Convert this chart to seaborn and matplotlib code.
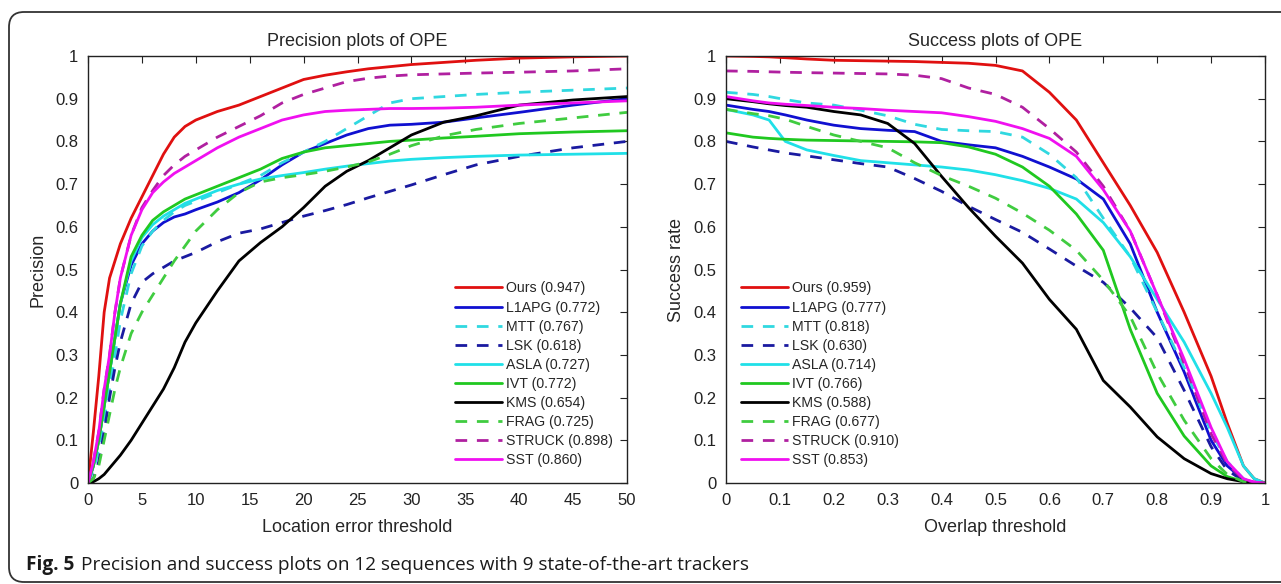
import numpy as np
import pandas as pd
import matplotlib
matplotlib.use("Agg")
import matplotlib.pyplot as plt
from matplotlib.patches import FancyBboxPatch
import seaborn as sns

# ---------------- data ----------------
trackers = ["Ours", "L1APG", "MTT", "LSK", "ASLA", "IVT", "KMS", "FRAG", "STRUCK", "SST"]
prec_scores = ["0.947", "0.772", "0.767", "0.618", "0.727", "0.772", "0.654", "0.725", "0.898", "0.860"]
succ_scores = ["0.959", "0.777", "0.818", "0.630", "0.714", "0.766", "0.588", "0.677", "0.910", "0.853"]

prec_x = [0, 0.5, 1, 1.5, 2, 2.5, 3, 4, 5, 6, 7, 8, 9, 10, 12, 14, 16, 18, 20, 22, 24, 26, 28, 30, 33, 36, 40, 45, 50]
prec_ours = [0, 0.12, 0.25, 0.40, 0.48, 0.52, 0.56, 0.62, 0.67, 0.72, 0.77, 0.81, 0.835, 0.85, 0.87, 0.885, 0.905, 0.925, 0.945, 0.955, 0.963, 0.97, 0.975, 0.98, 0.985, 0.99, 0.995, 0.998, 1.0]
prec_l1apg = [0, 0.04, 0.10, 0.18, 0.26, 0.34, 0.42, 0.51, 0.56, 0.59, 0.61, 0.623, 0.63, 0.64, 0.658, 0.68, 0.71, 0.745, 0.775, 0.795, 0.815, 0.83, 0.838, 0.84, 0.845, 0.855, 0.868, 0.885, 0.90]
prec_mtt = [0, 0.03, 0.08, 0.15, 0.22, 0.30, 0.38, 0.49, 0.555, 0.59, 0.615, 0.635, 0.65, 0.66, 0.68, 0.70, 0.72, 0.75, 0.775, 0.80, 0.83, 0.86, 0.89, 0.90, 0.905, 0.91, 0.915, 0.92, 0.925]
prec_lsk = [0, 0.01, 0.05, 0.12, 0.20, 0.27, 0.33, 0.42, 0.47, 0.49, 0.505, 0.52, 0.53, 0.54, 0.565, 0.585, 0.595, 0.61, 0.625, 0.638, 0.652, 0.668, 0.683, 0.698, 0.722, 0.745, 0.765, 0.785, 0.80]
prec_asla = [0, 0.04, 0.10, 0.18, 0.26, 0.34, 0.42, 0.52, 0.575, 0.605, 0.625, 0.64, 0.655, 0.665, 0.685, 0.70, 0.712, 0.72, 0.727, 0.735, 0.742, 0.748, 0.754, 0.758, 0.762, 0.765, 0.768, 0.77, 0.772]
prec_ivt = [0, 0.04, 0.10, 0.18, 0.26, 0.34, 0.42, 0.53, 0.58, 0.615, 0.635, 0.65, 0.665, 0.675, 0.695, 0.715, 0.735, 0.76, 0.775, 0.785, 0.79, 0.795, 0.80, 0.803, 0.808, 0.812, 0.818, 0.822, 0.825]
prec_kms = [0, 0.003, 0.01, 0.02, 0.035, 0.05, 0.065, 0.10, 0.14, 0.18, 0.22, 0.27, 0.33, 0.375, 0.45, 0.52, 0.563, 0.60, 0.645, 0.695, 0.73, 0.755, 0.785, 0.815, 0.845, 0.86, 0.885, 0.897, 0.905]
prec_frag = [0, 0.01, 0.04, 0.10, 0.16, 0.22, 0.27, 0.35, 0.40, 0.44, 0.48, 0.52, 0.555, 0.59, 0.64, 0.68, 0.705, 0.715, 0.722, 0.73, 0.74, 0.752, 0.77, 0.79, 0.813, 0.828, 0.842, 0.855, 0.868]
prec_struck = [0, 0.05, 0.12, 0.22, 0.30, 0.40, 0.48, 0.58, 0.645, 0.685, 0.72, 0.745, 0.765, 0.78, 0.81, 0.835, 0.86, 0.89, 0.91, 0.925, 0.94, 0.948, 0.953, 0.956, 0.958, 0.96, 0.962, 0.965, 0.97]
prec_sst = [0, 0.05, 0.12, 0.22, 0.30, 0.40, 0.48, 0.58, 0.64, 0.68, 0.705, 0.725, 0.74, 0.755, 0.785, 0.81, 0.83, 0.85, 0.862, 0.87, 0.873, 0.875, 0.877, 0.877, 0.878, 0.88, 0.885, 0.89, 0.895]

succ_x = [0, 0.05, 0.08, 0.11, 0.15, 0.2, 0.25, 0.3, 0.35, 0.4, 0.45, 0.5, 0.55, 0.6, 0.65, 0.7, 0.75, 0.8, 0.85, 0.9, 0.93, 0.96, 0.98, 1.0]
succ_ours = [1.0, 0.999, 0.998, 0.996, 0.993, 0.99, 0.989, 0.988, 0.987, 0.985, 0.983, 0.978, 0.965, 0.915, 0.85, 0.75, 0.65, 0.54, 0.40, 0.25, 0.14, 0.04, 0.01, 0.0]
succ_l1apg = [0.885, 0.875, 0.87, 0.862, 0.85, 0.838, 0.83, 0.826, 0.823, 0.80, 0.792, 0.785, 0.765, 0.74, 0.712, 0.665, 0.56, 0.40, 0.26, 0.10, 0.04, 0.008, 0.001, 0.0]
succ_mtt = [0.915, 0.91, 0.905, 0.898, 0.89, 0.885, 0.873, 0.86, 0.84, 0.828, 0.825, 0.823, 0.81, 0.77, 0.715, 0.62, 0.53, 0.40, 0.27, 0.12, 0.05, 0.01, 0.002, 0.0]
succ_lsk = [0.80, 0.787, 0.78, 0.773, 0.766, 0.757, 0.748, 0.74, 0.713, 0.683, 0.648, 0.617, 0.587, 0.548, 0.508, 0.47, 0.41, 0.34, 0.217, 0.085, 0.03, 0.005, 0.001, 0.0]
succ_asla = [0.875, 0.862, 0.85, 0.80, 0.78, 0.767, 0.755, 0.75, 0.745, 0.74, 0.733, 0.722, 0.708, 0.69, 0.665, 0.61, 0.53, 0.43, 0.33, 0.21, 0.13, 0.04, 0.01, 0.0]
succ_ivt = [0.82, 0.81, 0.807, 0.805, 0.803, 0.802, 0.801, 0.80, 0.799, 0.797, 0.787, 0.77, 0.74, 0.695, 0.63, 0.545, 0.36, 0.21, 0.11, 0.04, 0.015, 0.003, 0.0, 0.0]
succ_kms = [0.90, 0.893, 0.888, 0.884, 0.88, 0.87, 0.862, 0.842, 0.795, 0.718, 0.645, 0.578, 0.515, 0.43, 0.36, 0.24, 0.178, 0.108, 0.057, 0.022, 0.01, 0.003, 0.001, 0.0]
succ_frag = [0.875, 0.865, 0.86, 0.852, 0.835, 0.815, 0.80, 0.785, 0.75, 0.72, 0.695, 0.667, 0.632, 0.592, 0.545, 0.475, 0.39, 0.257, 0.147, 0.057, 0.02, 0.003, 0.0, 0.0]
succ_struck = [0.965, 0.964, 0.963, 0.962, 0.961, 0.96, 0.959, 0.958, 0.955, 0.947, 0.925, 0.91, 0.88, 0.83, 0.775, 0.695, 0.59, 0.44, 0.28, 0.115, 0.045, 0.008, 0.002, 0.0]
succ_sst = [0.905, 0.895, 0.89, 0.887, 0.884, 0.88, 0.877, 0.873, 0.87, 0.867, 0.858, 0.847, 0.83, 0.807, 0.765, 0.687, 0.59, 0.44, 0.29, 0.13, 0.05, 0.01, 0.002, 0.0]

prec_x_ticks = [0, 5, 10, 15, 20, 25, 30, 35, 40, 45, 50]
succ_x_ticks = [0, 0.1, 0.2, 0.3, 0.4, 0.5, 0.6, 0.7, 0.8, 0.9, 1]
succ_x_labels = ["0", "0.1", "0.2", "0.3", "0.4", "0.5", "0.6", "0.7", "0.8", "0.9", "1"]
y_ticks = [0, 0.1, 0.2, 0.3, 0.4, 0.5, 0.6, 0.7, 0.8, 0.9, 1]
y_labels = ["0", "0.1", "0.2", "0.3", "0.4", "0.5", "0.6", "0.7", "0.8", "0.9", "1"]

prec_series = [prec_ours, prec_l1apg, prec_mtt, prec_lsk, prec_asla, prec_ivt, prec_kms, prec_frag, prec_struck, prec_sst]
succ_series = [succ_ours, succ_l1apg, succ_mtt, succ_lsk, succ_asla, succ_ivt, succ_kms, succ_frag, succ_struck, succ_sst]

# ---------------- style ----------------
colors = {"Ours": "#e01010", "L1APG": "#1010d0", "MTT": "#30d8e0", "LSK": "#1a1aa0",
          "ASLA": "#20e0e8", "IVT": "#20c820", "KMS": "#000000", "FRAG": "#40cc40",
          "STRUCK": "#b020a0", "SST": "#f010f0"}
dashed = {"MTT", "LSK", "FRAG", "STRUCK"}

sns.set_style("white")
plt.rcParams["font.family"] = ["Liberation Sans", "DejaVu Sans"]

fig = plt.figure(figsize=(12.81, 5.84), dpi=100)
ax1 = fig.add_axes([88/1281, 1-483/584, 539/1281, 427/584])
ax2 = fig.add_axes([726/1281, 1-483/584, 539/1281, 427/584])

def draw(ax, xs, series, scores):
    handles = []
    for name, ys, sc in zip(trackers, series, scores):
        df = pd.DataFrame({"x": xs, "y": ys})
        ls = (0, (4.2, 3.5)) if name in dashed else "-"
        sns.lineplot(data=df, x="x", y="y", ax=ax, color=colors[name], linewidth=2.0,
                     linestyle=ls, estimator=None, sort=False)
        handles.append((ax.lines[-1], f"{name} ({sc})"))
    return handles

h1 = draw(ax1, prec_x, prec_series, prec_scores)
h2 = draw(ax2, succ_x, succ_series, succ_scores)

for ax in (ax1, ax2):
    ax.set_ylim(0, 1)
    ax.set_yticks(y_ticks)
    ax.set_yticklabels(y_labels)
    ax.tick_params(direction="in", length=5, width=0.8, top=True, right=True,
                   labelsize=12, colors="#222222")
    ax.tick_params(axis="x", pad=7)
    ax.tick_params(axis="y", pad=7)
    for s in ax.spines.values():
        s.set_color("#222222")
        s.set_linewidth(1.0)
    ax.set_facecolor("white")

ax1.set_xlim(0, 50)
ax1.set_xticks(prec_x_ticks)
ax2.set_xlim(0, 1)
ax2.set_xticks(succ_x_ticks)
ax2.set_xticklabels(succ_x_labels)

ax1.set_title("Precision plots of OPE", fontsize=13, pad=7)
ax2.set_title("Success plots of OPE", fontsize=13, pad=7)
ax1.set_xlabel("Location error threshold", fontsize=13, labelpad=8)
ax2.set_xlabel("Overlap threshold", fontsize=13, labelpad=8)
ax1.set_ylabel("Precision", fontsize=13, labelpad=6)
ax2.set_ylabel("Success rate", fontsize=13, labelpad=6)

leg_kw = dict(loc="upper left", frameon=False, fontsize=10.2, handlelength=3.3,
              handletextpad=0.3, labelspacing=0.36, borderpad=0, borderaxespad=0)
ax1.legend([h for h, _ in h1], [l for _, l in h1], bbox_to_anchor=(0.681, 0.472), **leg_kw)
ax2.legend([h for h, _ in h2], [l for _, l in h2], bbox_to_anchor=(0.028, 0.472), **leg_kw)

# outer rounded frame and caption
frame = FancyBboxPatch((0.09, 0.02), 13.2, 5.70, boxstyle="round,pad=0,rounding_size=0.15",
                       transform=fig.dpi_scale_trans, facecolor="none",
                       edgecolor="#333333", linewidth=1.3)
fig.patches.append(frame)
cap_y = 1 - 565/584
fig.text(26/1281, cap_y, "Fig. 5", fontsize=13.7, fontweight="bold",
         family=["Open Sans", "DejaVu Sans"], va="center", ha="left", color="#1a1a1a")
fig.text(81/1281, cap_y, "Precision and success plots on 12 sequences with 9 state-of-the-art trackers",
         fontsize=13.7, family=["Open Sans", "DejaVu Sans"], va="center", ha="left", color="#1a1a1a")

fig.savefig("out.png", dpi=100)
